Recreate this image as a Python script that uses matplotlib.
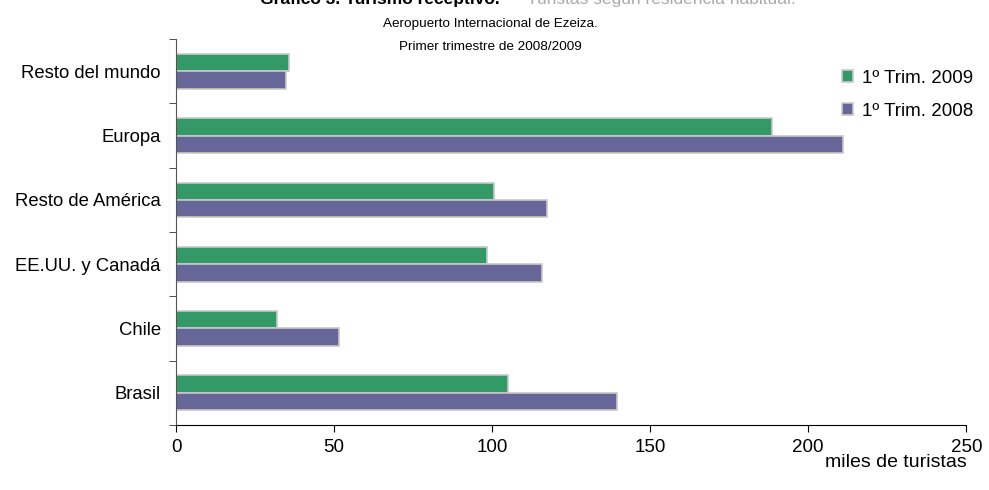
import numpy as np
import matplotlib.pyplot as plt

plt.rcParams['font.family'] = ['Liberation Sans', 'DejaVu Sans']

regiones = ['Brasil', 'Chile', 'EE.UU. y Canadá', 'Resto de América', 'Europa', 'Resto del mundo']
trim_2009 = [105.1, 32.0, 98.5, 100.6, 188.4, 35.8]
trim_2008 = [139.6, 51.7, 115.8, 117.4, 211.0, 34.8]
xticks = [0, 50, 100, 150, 200, 250]

verde = '#339966'
violeta = '#666699'

fig = plt.figure(figsize=(9.89, 4.9), dpi=100)
ax = fig.add_axes([0.178, 0.133, 0.799, 0.787])

y = np.arange(len(regiones))
h = 0.27
ax.barh(y + h / 2, trim_2009, height=h, color=verde, edgecolor='#c8c8c8', linewidth=1.2, label='1º Trim. 2009')
ax.barh(y - h / 2, trim_2008, height=h, color=violeta, edgecolor='#c8c8c8', linewidth=1.2, label='1º Trim. 2008')

ax.set_xlim(0, 250)
ax.set_ylim(-0.5, len(regiones) - 0.5)
ax.set_xticks(xticks)
ax.set_xticklabels([str(t) for t in xticks], fontsize=13.5)
ax.set_yticks(y)
ax.set_yticklabels(regiones, fontsize=13.3)
ax.tick_params(axis='y', length=0, pad=11)
ax.set_yticks(np.arange(-0.5, len(regiones)), minor=True)
ax.tick_params(axis='y', which='minor', length=5, direction='out', color='#333333')
ax.tick_params(axis='x', length=5, direction='out', pad=5)

for s in ['top', 'right']:
    ax.spines[s].set_visible(False)
ax.spines['left'].set_color('#555555')
ax.spines['bottom'].set_color('black')

ax.text(1.0, -0.075, 'miles de turistas', transform=ax.transAxes, ha='right', va='top', fontsize=14)

leg = ax.legend(loc='upper left', bbox_to_anchor=(0.822, 0.965), frameon=False, fontsize=13.5,
                handlelength=0.55, handleheight=0.55, labelspacing=0.85, handletextpad=0.5)

fig.text(500 / 989, 1 - 4 / 490, 'Gráfico 3. Turismo receptivo.', ha='right', va='baseline',
         fontsize=12.5, fontweight='bold')
fig.text(527 / 989, 1 - 4 / 490, 'Turistas según residencia habitual.', ha='left', va='baseline',
         fontsize=12.5, color='#aaaaaa')
fig.text(490 / 989, 1 - 24 / 490, 'Aeropuerto Internacional de Ezeiza.', ha='center', va='center', fontsize=9.7)
fig.text(490 / 989, 1 - 47 / 490, 'Primer trimestre de 2008/2009', ha='center', va='center', fontsize=9.7)

fig.savefig('out.png', dpi=100)
